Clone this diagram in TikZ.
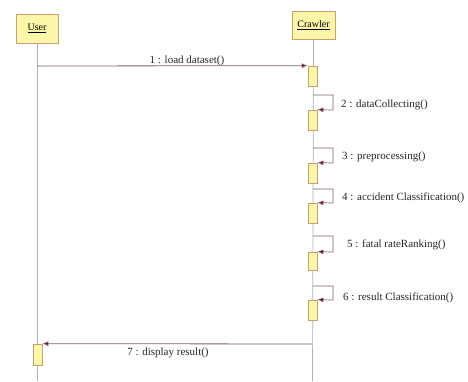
\documentclass[tikz,border=0pt]{standalone}
\usepackage{fontspec}
\setmainfont{Liberation Serif}
\usetikzlibrary{arrows.meta}
\definecolor{boxfill}{HTML}{FBF6A8}
\definecolor{boxdraw}{HTML}{C8A070}
\definecolor{lifegray}{HTML}{B0B0B0}
\definecolor{msgcol}{HTML}{806070}
\definecolor{tipcol}{HTML}{800000}
\tikzset{
  objbox/.style={draw=boxdraw,fill=boxfill,line width=0.8pt,inner sep=0pt,font=\fontsize{10}{11}\selectfont},
  actbox/.style={draw=boxdraw,fill=boxfill,line width=0.7pt,inner sep=0pt,minimum width=9pt},
  lifeline/.style={draw=lifegray,line width=0.7pt},
  msg/.style={draw=msgcol,line width=0.8pt,-{Latex[length=6pt,width=5pt,fill=tipcol]}},
  selfmsg/.style={draw=msgcol,line width=0.7pt,-{Latex[length=6pt,width=5pt,fill=tipcol]}},
  lbl/.style={font=\fontsize{11}{12}\selectfont,inner sep=0pt,text=black!85}
}
\begin{document}
\begin{tikzpicture}[x=1pt,y=-1pt]
\useasboundingbox[fill=white] (0,0) rectangle (468,381);
% objects
\node[objbox,minimum width=42pt,minimum height=29pt] (user) at (37,28.5) {\underline{User}};
\node[objbox,minimum width=43pt,minimum height=28pt] (crawler) at (313.5,25) {\underline{Crawler}};
% lifeline ends
\coordinate (uend) at (37,381);
\coordinate (cend) at (312.5,381);
\draw[lifeline] (user.south) -- (uend);
\draw[lifeline] (crawler.south) -- (cend);
% activations
\node[actbox,minimum height=20pt] (a1) at (312.5,76) {};
\node[actbox,minimum height=20pt] (a2) at (312.5,120) {};
\node[actbox,minimum height=20pt] (a3) at (312.5,173) {};
\node[actbox,minimum height=20pt] (a4) at (312.5,213) {};
\node[actbox,minimum height=18pt] (a5) at (312.5,261) {};
\node[actbox,minimum height=20pt] (a6) at (312.5,310) {};
\node[actbox,minimum height=21pt] (u7) at (37.5,354.5) {};
% message 1
\coordinate (m1s) at (37,66);
\draw[msg] (m1s) -- (a1.north west);
\node[lbl] (l1) at (187,61) {1 : load dataset()};
% self messages
\coordinate (s2) at (313,95);
\draw[selfmsg] (s2) -- (333,95) -- (333,110) -- (a2.north east);
\node[lbl,anchor=west] (l2) at (341,105) {2 : dataCollecting()};
\coordinate (s3) at (313,148);
\draw[selfmsg] (s3) -- (333,148) -- (333,163) -- (a3.north east);
\node[lbl,anchor=west] (l3) at (342,157) {3 : preprocessing()};
\coordinate (s4) at (313,189);
\draw[selfmsg] (s4) -- (333,189) -- (333,203) -- (a4.north east);
\node[lbl,anchor=west] (l4) at (342,198) {4 : accident Classification()};
\coordinate (s5) at (313,236);
\draw[selfmsg] (s5) -- (333,236) -- (333,252) -- (a5.north east);
\node[lbl,anchor=west] (l5) at (347,245) {5 : fatal rateRanking()};
\coordinate (s6) at (313,286);
\draw[selfmsg] (s6) -- (333,286) -- (333,300) -- (a6.north east);
\node[lbl,anchor=west] (l6) at (343,298) {6 : result Classification()};
% message 7
\coordinate (m7s) at (312.5,344);
\draw[msg] (m7s) -- (u7.north east);
\node[lbl] (l7) at (168,353) {7 : display result()};
\end{tikzpicture}
\end{document}
